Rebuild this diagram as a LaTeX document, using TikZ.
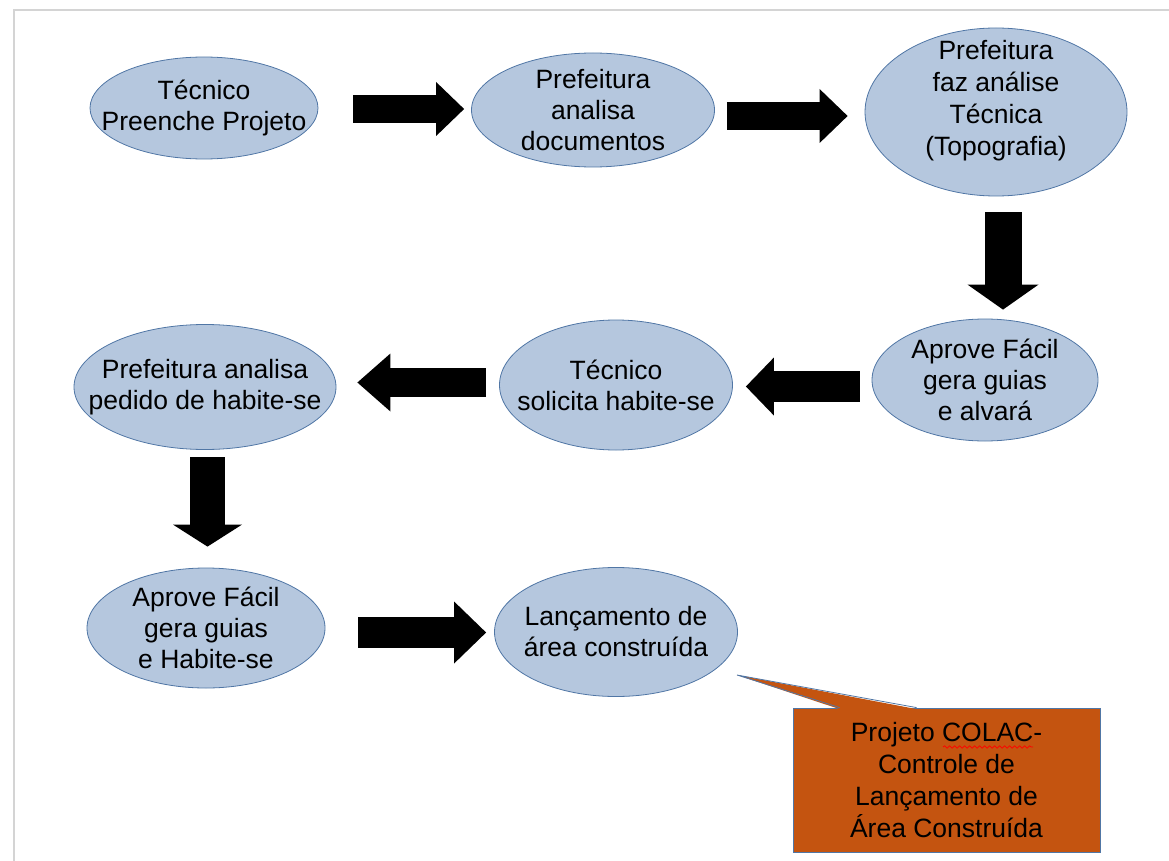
\documentclass[tikz,border=0pt]{standalone}
\usepackage{fontspec}
\setmainfont{Liberation Sans}
\usetikzlibrary{shapes.geometric,arrows.meta,calc,decorations.pathmorphing}

\definecolor{etapafundo}{RGB}{181,199,222}
\definecolor{etapaborda}{RGB}{80,118,165}
\definecolor{laranja}{RGB}{196,84,16}
\definecolor{moldura}{RGB}{212,212,212}

\tikzset{
  etapa/.style={ellipse, draw=etapaborda, fill=etapafundo, line width=0.8pt,
    inner xsep=-60pt, inner ysep=-10pt, align=center,
    font=\fontsize{26.5}{31}\selectfont},
  seta/.style n args={3}{line width=#1, draw=black,
    -{Triangle[width=#2, length=#3, line width=0pt]}},
  nota/.style={rectangle, draw=etapaborda, fill=laranja, line width=0.8pt,
    align=center, font=\fontsize{26.5}{32}\selectfont}
}

\begin{document}
\begin{tikzpicture}[x=1pt,y=-1pt]
    \useasboundingbox (0,0) rectangle (1169,861);
    \draw [moldura, line width=1.5pt] (14,861) -- (14,10) -- (1169,10);

    % etapas
    \node[etapa, minimum width=228pt, minimum height=102pt] (tec) at (204,108) {Técnico\\Preenche Projeto};
    \node[etapa, minimum width=243pt, minimum height=114pt] (doc) at (593,110) {Prefeitura\\analisa\\documentos};
    \node[etapa, minimum width=262pt, minimum height=168pt, inner ysep=-20pt, text depth=28pt,
      font=\fontsize{26.5}{32}\selectfont] (ana) at (996,112) {Prefeitura\\faz análise\\Técnica\\(Topografia)};
    \node[etapa, minimum width=226pt, minimum height=122pt] (alv) at (985,380) {Aprove Fácil\\gera guias\\e alvará};
    \node[etapa, minimum width=233pt, minimum height=130pt] (sol) at (616,385) {Técnico\\solicita habite-se};
    \node[etapa, minimum width=262pt, minimum height=125pt] (ped) at (205,387) {Prefeitura analisa\\pedido de habite-se};
    \node[etapa, minimum width=238pt, minimum height=120pt] (gui) at (206,628) {Aprove Fácil\\gera guias\\e Habite-se};
    \node[etapa, minimum width=243pt, minimum height=129pt] (lan) at (616,632) {Lançamento de\\área construída};

    % setas
    \draw [seta={28pt}{54pt}{28pt}] ($(tec.east)+(35,1)$) -- ($(tec.east -| doc.west)+(-7,1)$);
    \draw [seta={28pt}{54pt}{28pt}] ($(doc.east)+(12,6)$) -- ($(doc.east -| ana.west)+(-17,6)$);
    \draw [seta={37pt}{71pt}{25pt}] ($(ana.south)+(7,16)$) -- ($(ana.south |- alv.north)+(7,-9)$);
    \draw [seta={31pt}{58pt}{28pt}] ($(alv.west)+(-12,6.5)$) -- ($(alv.west -| sol.east)+(13,6.5)$);
    \draw [seta={29pt}{58pt}{33pt}] ($(sol.west)+(-13,-2.5)$) -- ($(sol.west -| ped.east)+(21,-2.5)$);
    \draw [seta={35pt}{69pt}{22pt}] ($(ped.south)+(2.5,7.5)$) -- ($(ped.south |- gui.north)+(2.5,-21)$);
    \draw [seta={31pt}{62pt}{32pt}] ($(gui.east)+(33,4.5)$) -- ($(gui.east -| lan.west)+(-8,4.5)$);

    % nota
    \node[nota, minimum width=307pt, minimum height=144pt] (colac) at (946.5,780) {Projeto COLAC-\\Controle de\\Lançamento de\\Área Construída};
    \coordinate (ponta) at (737,675);
    \fill [laranja] ($(colac.north west)+(47,1.5)$) -- (ponta) -- ($(colac.north west)+(124,1.5)$) -- cycle;
    \draw [etapaborda, line width=0.8pt] ($(colac.north west)+(47,0)$) -- (ponta) -- ($(colac.north west)+(124,0)$);
    \draw [red, line width=0.7pt, decorate, decoration={snake, amplitude=1.2pt, segment length=5pt}] (943,747) -- (1033,747);
\end{tikzpicture}
\end{document}
